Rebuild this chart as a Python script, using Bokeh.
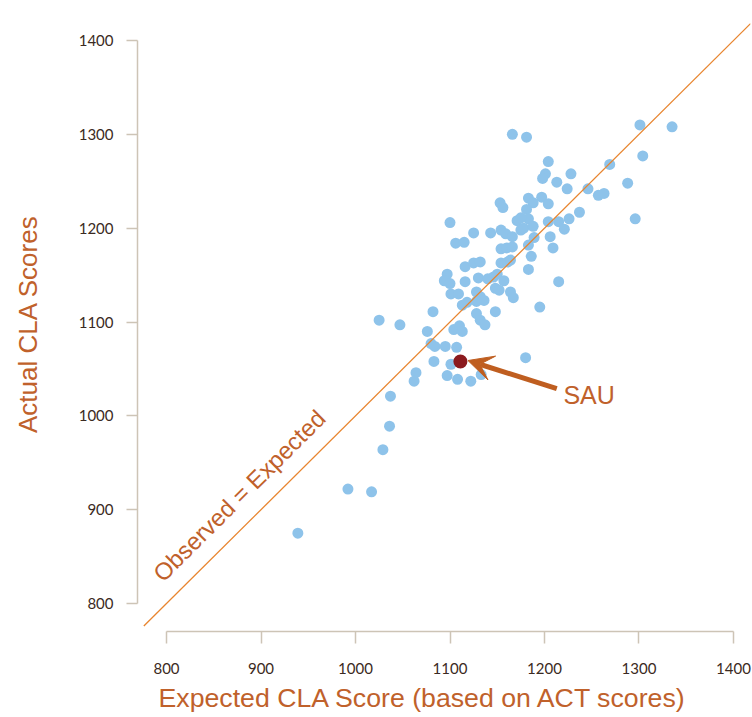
import math
from bokeh.plotting import figure
from bokeh.models import FixedTicker, Arrow, VeeHead, Label, Range1d, Title
from bokeh.embed import file_html
from bokeh.resources import INLINE

# ---- data ----
expected = [1166, 1181, 1301, 1335, 1304, 1204, 1269, 1228, 1201, 1198,
            1213, 1288, 1224, 1246, 1257, 1263, 1183, 1197, 1204, 1188,
            1153, 1156, 1181, 1237, 1183, 1171, 1175, 1204, 1215, 1226,
            1221, 1296, 1100, 1125, 1143, 1154, 1159, 1166, 1175, 1178,
            1188, 1189, 1206, 1106, 1115, 1154, 1160, 1166, 1183, 1209,
            1186, 1116, 1125, 1132, 1154, 1161, 1164, 1183, 1097, 1094,
            1100, 1116, 1130, 1140, 1146, 1150, 1157, 1215, 1101, 1109,
            1128, 1132, 1136, 1148, 1152, 1164, 1167, 1113, 1118, 1128,
            1195, 1082, 1148, 1025, 1047, 1128, 1132, 1137, 1076, 1104,
            1110, 1113, 1080, 1084, 1095, 1107, 1083, 1101, 1180, 1064,
            1062, 1097, 1108, 1122, 1133, 1037, 1036, 1029, 992, 1017, 939]
actual = [1300, 1297, 1310, 1308, 1277, 1271, 1268, 1258, 1258, 1253,
          1249, 1248, 1242, 1242, 1235, 1237, 1232, 1233, 1226, 1227,
          1227, 1222, 1220, 1217, 1210, 1208, 1211, 1207, 1207, 1210,
          1199, 1210, 1206, 1195, 1195, 1198, 1194, 1191, 1198, 1200,
          1202, 1190, 1191, 1184, 1185, 1178, 1179, 1180, 1182, 1179,
          1170, 1159, 1163, 1164, 1163, 1164, 1166, 1156, 1151, 1144,
          1141, 1143, 1147, 1146, 1148, 1151, 1144, 1143, 1130, 1130,
          1132, 1127, 1123, 1136, 1134, 1132, 1126, 1118, 1121, 1122,
          1116, 1111, 1111, 1102, 1097, 1109, 1102, 1097, 1090, 1092,
          1096, 1090, 1077, 1074, 1074, 1073, 1058, 1055, 1062, 1046,
          1037, 1043, 1039, 1037, 1044, 1021, 989, 964, 922, 919, 875]

sau_expected = [1111]
sau_actual = [1058]
sau_label = "SAU"

equal_line = [776, 1418]          # observed = expected diagonal extent
tick_values = [800, 900, 1000, 1100, 1200, 1300, 1400]

x_title = "Expected CLA Score (based on ACT scores)"
y_title = "Actual CLA Scores"
diag_label = "Observed = Expected"

# ---- styles ----
BLUE = "#8EC3EA"
DARKRED = "#8B1A1E"
LINE_ORANGE = "#E8852F"
TEXT_ORANGE = "#C0612B"
ARROW_ORANGE = "#BF5E20"
AXIS_COL = "#CDC4B6"
TICK_TXT = "#3B2A22"

p = figure(width=752, height=717,
           x_range=Range1d(769.3, 1418), y_range=Range1d(770.2, 1425.6),
           output_backend="svg", toolbar_location=None,
           min_border_left=137, min_border_right=2,
           min_border_top=16, min_border_bottom=86)
p.grid.visible = False
p.outline_line_color = None
p.background_fill_color = "white"

for ax in (p.xaxis[0], p.yaxis[0]):
    ax.ticker = FixedTicker(ticks=tick_values)
    ax.bounds = (800, 1400)
    ax.axis_line_color = AXIS_COL
    ax.axis_line_width = 1.5
    ax.major_tick_line_color = AXIS_COL
    ax.major_tick_line_width = 1.5
    ax.major_tick_in = 0
    ax.minor_tick_line_color = None
    ax.major_label_text_font = "Lato"
    ax.major_label_text_font_size = "15px"
    ax.major_label_text_color = TICK_TXT
    ax.axis_label_text_font = "Liberation Sans"
    ax.axis_label_text_font_size = "26px"
    ax.axis_label_text_font_style = "normal"
    ax.axis_label_text_color = TEXT_ORANGE

p.xaxis.major_tick_out = 12
p.xaxis.major_label_standoff = 19

p.yaxis.axis_label = y_title
p.yaxis.major_tick_out = 11
p.yaxis.major_label_standoff = 13
p.yaxis.axis_label_standoff = 33

# x-axis title (left-offset as in the original)
p.add_layout(Title(text=x_title, align="left", offset=21, standoff=9,
                   text_font="Liberation Sans", text_font_size="26.7px",
                   text_font_style="normal", text_color=TEXT_ORANGE), "below")

# points
p.scatter(expected, actual, size=11, fill_color=BLUE, line_color=None)

# diagonal
p.line(equal_line, equal_line, line_color=LINE_ORANGE, line_width=1.3)

diag_angle = math.atan2(0.9383, 0.945)
p.add_layout(Label(x=877, y=915, text=diag_label, angle=diag_angle,
                   text_align="center", text_baseline="middle",
                   text_font="Liberation Sans", text_font_size="24px",
                   text_color=TEXT_ORANGE))

# arrow and SAU
p.add_layout(Arrow(end=VeeHead(size=25, fill_color=ARROW_ORANGE, line_color=ARROW_ORANGE),
                   x_start=1213, y_start=1029, x_end=1119, y_end=1059,
                   line_color=ARROW_ORANGE, line_width=5))
p.scatter(sau_expected, sau_actual, size=14, fill_color=DARKRED, line_color=None)
p.add_layout(Label(x=1220, y=1022, text=sau_label,
                   text_align="left", text_baseline="middle",
                   text_font="Liberation Sans", text_font_size="25px",
                   text_color=TEXT_ORANGE))

open("out.html", "w").write(file_html(p, INLINE))
